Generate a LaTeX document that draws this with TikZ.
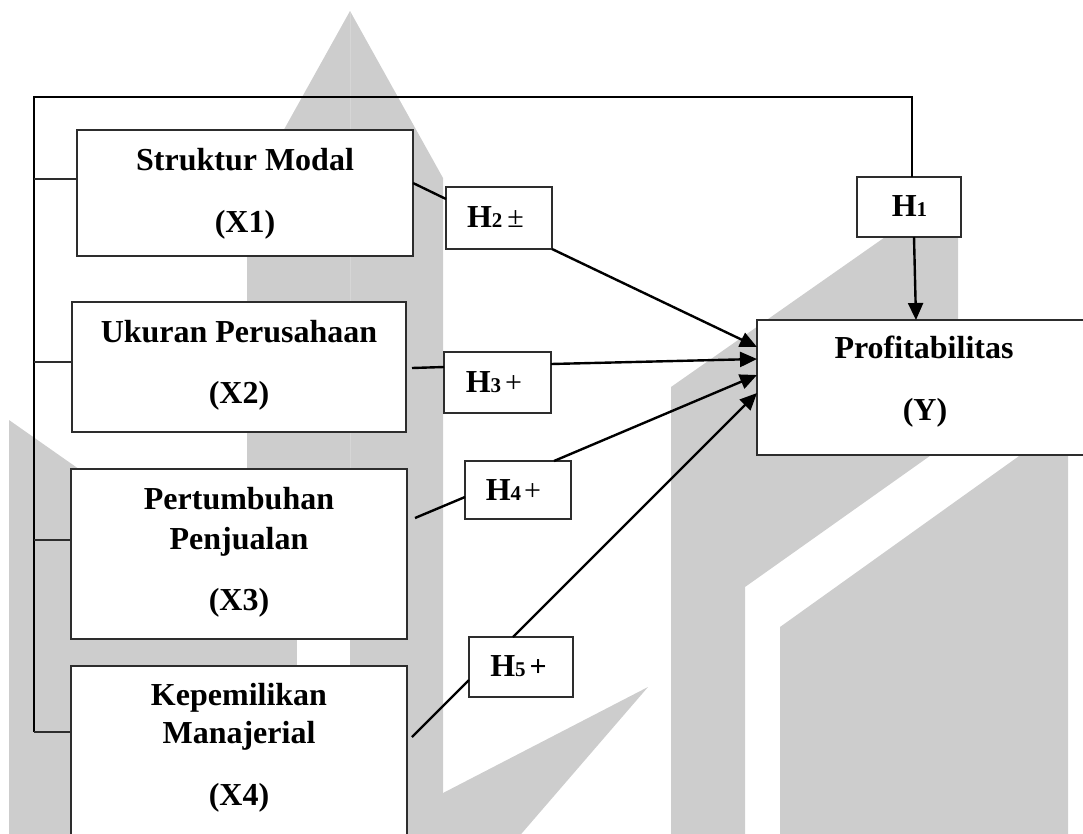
\documentclass[tikz,border=0pt]{standalone}
\usepackage{fontspec}
\setmainfont{Liberation Serif}
\usetikzlibrary{arrows.meta,calc}
\definecolor{wm}{RGB}{205,205,205}
\definecolor{wmline}{RGB}{214,214,214}
\definecolor{boxline}{RGB}{45,45,45}
\newcommand\hsub[1]{{\fontsize{21}{21}\selectfont #1}}
\newcommand\pmsign{{\mdseries\fontsize{30}{30}\selectfont ±}}
\newcommand\plussign{{\mdseries\fontsize{30}{30}\selectfont +}}
\newcommand\bplussign{{\bfseries\fontsize{30}{30}\selectfont +}}
\begin{document}
\begin{tikzpicture}[x=1pt,y=-1pt,
  box/.style={draw=boxline, line width=1.5pt, fill=white, rectangle, inner sep=0pt, outer sep=0pt, anchor=north west},
  lbl/.style={anchor=base, inner sep=0pt, font=\fontsize{32}{38}\selectfont\bfseries},
  conn/.style={line width=2.4pt, black},
  arr/.style={conn, -{Triangle[length=17pt,width=15pt]}},
  stub/.style={line width=1.5pt, boxline}]
\useasboundingbox (0,0) rectangle (1083,833);
% watermark
\fill[wm] (350,11) -- (443,178) -- (443,840) -- (247,840) -- (247,196) -- cycle;
\fill[wm] (9,420) -- (297,622) -- (297,840) -- (9,840) -- cycle;
\fill[white] (297,600) rectangle (350,840);
\draw[wmline, line width=0.8pt] (350,12) -- (350,600);
\fill[wm] (671,387) -- (958,186) -- (958,436) -- (745,587) -- (745,840) -- (671,840) -- cycle;
\fill[wm] (780,627) -- (1068,421) -- (1068,840) -- (780,840) -- cycle;
\fill[wm] (443,793) -- (648,687) -- (516,840) -- (443,840) -- cycle;
% boxes
\node[box, minimum width=336pt, minimum height=126pt] (X1) at (77,130) {};
\node[box, minimum width=334pt, minimum height=130pt] (X2) at (72,302) {};
\node[box, minimum width=336pt, minimum height=170pt] (X3) at (71,469) {};
\node[box, minimum width=336pt, minimum height=170pt] (X4) at (71,666) {};
\node[box, minimum width=338pt, minimum height=135pt] (Y) at (757,320) {};
\node[box, minimum width=104pt, minimum height=60pt] (H1) at (857,177) {};
\node[box, minimum width=106pt, minimum height=62pt] (H2) at (446,187) {};
\node[box, minimum width=107pt, minimum height=61pt] (H3) at (444,352) {};
\node[box, minimum width=106pt, minimum height=58pt] (H4) at (465,461) {};
\node[box, minimum width=104pt, minimum height=60pt] (H5) at (469,637) {};
% frame on the left and top
\coordinate (tl) at (34,97);
\coordinate (s1) at ([yshift=14pt]X1.west);
\coordinate (s2) at ([yshift=5pt]X2.west);
\coordinate (s3) at ([yshift=14pt]X3.west);
\coordinate (s4) at ([yshift=19pt]X4.west);
\coordinate (h1top) at ([xshift=3pt]H1.north);
\draw[conn] (s4 -| tl) -- (tl) -- (h1top |- tl) -- (h1top);
\draw[stub] (s1 -| tl) -- (s1);
\draw[stub] (s2 -| tl) -- (s2);
\draw[stub] (s3 -| tl) -- (s3);
\draw[stub] (s4 -| tl) -- (s4);
% connectors
\draw[conn] ([yshift=10pt]X1.east) -- ([yshift=19pt]H2.west);
\draw[arr] (H2.south east) -- ([yshift=40.5pt]Y.west);
\draw[conn] ([xshift=6pt,yshift=-1pt]X2.east) -- ([yshift=15.5pt]H3.west);
\draw[arr] ([yshift=18.5pt]H3.east) -- ([yshift=28.5pt]Y.west);
\draw[conn] ([xshift=8pt,yshift=36pt]X3.east) -- ([yshift=-7pt]H4.west);
\draw[arr] ([xshift=36pt]H4.north) -- ([yshift=12.5pt]Y.west);
\draw[conn] ([xshift=5pt,yshift=14pt]X4.east) -- ([yshift=-13pt]H5.west);
\draw[arr] ([xshift=-8pt]H5.north) -- ([yshift=-5.5pt]Y.west);
\draw[arr] ([xshift=5pt]H1.south) -- ([xshift=-10pt]Y.north);
% texts
\node[lbl] (t1a) at (245,170) {Struktur Modal};
\node[lbl] (t1b) at (245,232) {(X1)};
\node[lbl] (t2a) at (239,342) {Ukuran Perusahaan};
\node[lbl] (t2b) at (239,403) {(X2)};
\node[lbl] (t3a) at (239,509) {Pertumbuhan};
\node[lbl] (t3b) at (239,549) {Penjualan};
\node[lbl] (t3c) at (239,610) {(X3)};
\node[lbl] (t4a) at (239,705) {Kepemilikan};
\node[lbl] (t4b) at (239,743) {Manajerial};
\node[lbl] (t4c) at (239,805) {(X4)};
\node[lbl] (tya) at (924,358) {Profitabilitas};
\node[lbl] (tyb) at (925,420) {(Y)};
\node[lbl] (th1) at (909.5,216) {H\hsub{1}};
\node[lbl] (th2) at (495.5,227) {H\hsub{2}\hspace{5pt}\pmsign};
\node[lbl] (th3) at (494,392) {H\hsub{3}\hspace{4pt}\plussign};
\node[lbl] (th4) at (513.5,500) {H\hsub{4}\hspace{3pt}\plussign};
\node[lbl] (th5) at (518.5,676) {H\hsub{5}\hspace{4pt}\bplussign};
\end{tikzpicture}
\end{document}
